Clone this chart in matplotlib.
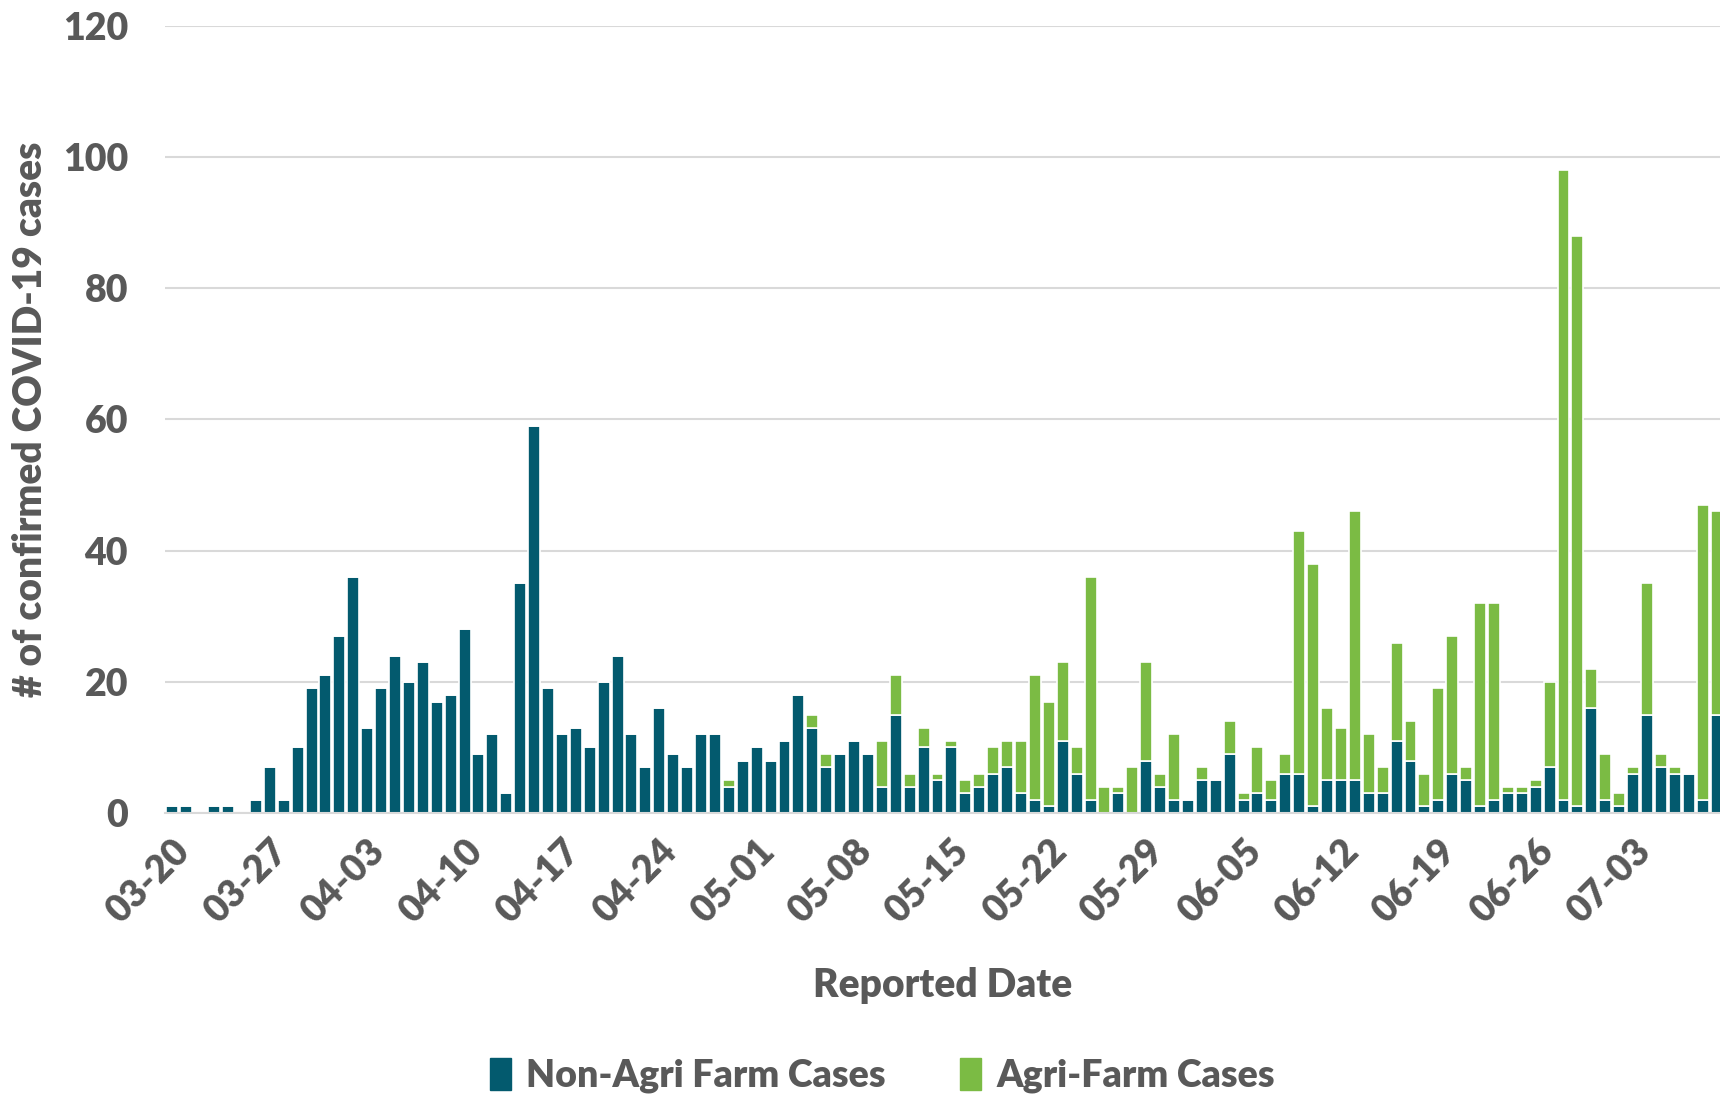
import matplotlib
matplotlib.use("Agg")
import matplotlib.pyplot as plt
from matplotlib.patches import Patch
import numpy as np
import pandas as pd

plt.rcParams["font.family"] = ["Lato", "DejaVu Sans"]
plt.rcParams["font.weight"] = "bold"

# daily counts from 2020-03-20
non_agri = [
    1, 1, 0, 1, 1, 0, 2, 7, 2, 10, 19, 21, 27, 36,          # 03-20 .. 04-02
    13, 19, 24, 20, 23, 17, 18, 28, 9, 12, 3, 35, 59, 19,    # 04-03 .. 04-16
    12, 13, 10, 20, 24, 12, 7, 16, 9, 7, 12, 12, 4, 8,       # 04-17 .. 04-30
    10, 8, 11, 18, 13, 7, 9, 11, 9, 4, 15, 4, 10, 5,         # 05-01 .. 05-14
    10, 3, 4, 6, 7, 3, 2, 1, 11, 6, 2, 0, 3, 0,              # 05-15 .. 05-28
    8, 4, 2, 2, 5, 5, 9, 2, 3, 2, 6, 6, 1, 5,                # 05-29 .. 06-11
    5, 5, 3, 3, 11, 8, 1, 2, 6, 5, 1, 2, 3, 3,               # 06-12 .. 06-25
    4, 7, 2, 1, 16, 2, 1, 6, 15, 7, 6, 6, 2, 15,             # 06-26 .. 07-09
]
agri = [
    0, 0, 0, 0, 0, 0, 0, 0, 0, 0, 0, 0, 0, 0,
    0, 0, 0, 0, 0, 0, 0, 0, 0, 0, 0, 0, 0, 0,
    0, 0, 0, 0, 0, 0, 0, 0, 0, 0, 0, 0, 1, 0,
    0, 0, 0, 0, 2, 2, 0, 0, 0, 7, 6, 2, 3, 1,
    1, 2, 2, 4, 4, 8, 19, 16, 12, 4, 34, 4, 1, 7,
    15, 2, 10, 0, 2, 0, 5, 1, 7, 3, 3, 37, 37, 11,
    8, 41, 9, 4, 15, 6, 5, 17, 21, 2, 31, 30, 1, 1,
    1, 13, 96, 87, 6, 7, 2, 1, 20, 2, 1, 0, 45, 31,
]
dates = pd.date_range("2020-03-20", periods=len(non_agri))
labels = [d.strftime("%m-%d") for d in dates]

dark = "#035a6e"
green = "#7bbb44"
grey = "#595959"

x = np.arange(len(labels))
fig = plt.figure(figsize=(17.2, 10.95), dpi=100)
ax = fig.add_axes([0.0962, 0.2575, 0.9038, 0.7188])

ax.bar(x, non_agri, width=0.86, color=dark, edgecolor="white", linewidth=1.2, zorder=3)
ax.bar(x, agri, bottom=non_agri, width=0.86, color=green, edgecolor="white",
       linewidth=1.2, zorder=3)

ax.set_xlim(-0.5, 111.25)
ax.set_ylim(0, 120)
ax.set_yticks(range(0, 121, 20))
ax.grid(axis="y", color="#d9d9d9", linewidth=1.5, zorder=0)
for s in ["top", "right", "left"]:
    ax.spines[s].set_visible(False)
ax.spines["bottom"].set_color("#d9d9d9")
ax.spines["bottom"].set_linewidth(1.5)
ax.spines["bottom"].set_zorder(4)

ax.set_xticks(x[::7])
ax.set_xticklabels(labels[::7], rotation=45, ha="right", rotation_mode="anchor")
ax.tick_params(axis="both", length=0, labelsize=27, labelcolor=grey)
ax.tick_params(axis="x", pad=15)
ax.tick_params(axis="y", pad=27)
for t in ax.get_yticklabels() + ax.get_xticklabels():
    t.set_fontweight("heavy")

ax.set_xlabel("Reported Date", fontsize=28, color=grey, fontweight="heavy", labelpad=27)
ax.set_ylabel("# of confirmed COVID-19 cases", fontsize=28, color=grey,
              fontweight="heavy", labelpad=10)

handles = [Patch(color=dark, label="Non-Agri Farm Cases"),
           Patch(color=green, label="Agri-Farm Cases")]
leg = fig.legend(handles=handles, loc="center", bbox_to_anchor=(0.513, 0.018),
                 ncol=2, frameon=False, fontsize=27, handlelength=0.55,
                 handleheight=0.95, handletextpad=0.4, columnspacing=2.0)
for t in leg.get_texts():
    t.set_color(grey)
    t.set_fontweight("heavy")

fig.savefig("out.png", dpi=100)
